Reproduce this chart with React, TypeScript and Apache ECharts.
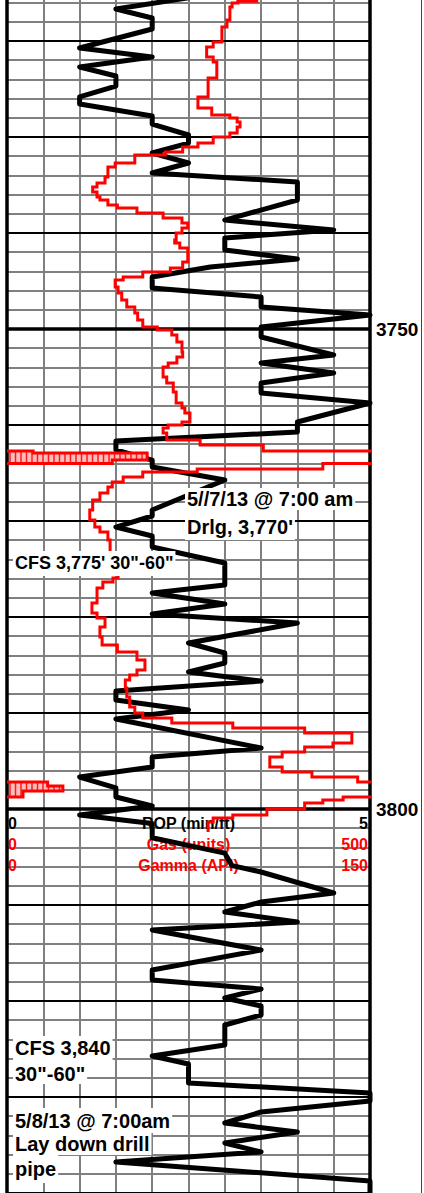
import React, { useEffect, useRef } from "react";
import * as echarts from "echarts";

// ---------------- data ----------------
const ropDepth = [
  3715.5, 3716.67, 3717.6, 3718.75, 3720.73, 3721.67, 3722.71, 3723.65, 3724.69, 3725.83,
  3726.56, 3727.81, 3728.65, 3729.79, 3730.63, 3731.67, 3732.71, 3733.75, 3734.69, 3736.56,
  3738.65, 3739.69, 3740.52, 3741.77, 3742.71, 3743.54, 3744.58, 3745.73, 3746.67, 3747.71,
  3748.54, 3749.79, 3750.83, 3752.71, 3753.54, 3754.58, 3755.63, 3756.67, 3757.71, 3759.69,
  3760.73, 3761.67, 3762.6, 3763.65, 3764.38, 3765.73, 3768.85, 3769.48, 3770.63, 3771.56,
  3772.71, 3774.38, 3776.67, 3777.5, 3778.65, 3779.69, 3780.63, 3782.71, 3783.75, 3784.79,
  3785.73, 3786.67, 3787.71, 3788.65, 3789.69, 3790.63, 3793.65, 3794.58, 3795.63, 3796.67,
  3797.81, 3798.75, 3799.69, 3800.63, 3801.5, 3803.0, 3804.6, 3805.9, 3806.56, 3808.75,
  3809.69, 3810.73, 3811.77, 3812.6, 3814.69, 3816.77, 3817.81, 3818.75, 3819.69, 3820.52,
  3821.46, 3822.5, 3824.58, 3825.73, 3826.56, 3828.54, 3829.58, 3830.42, 3831.56, 3832.71,
  3833.65, 3834.79, 3835.73, 3836.77, 3838.75, 3841.0,
];
const ropValue = [
  2.5, 1.5, 2.0, 2.0, 1.0, 2.0, 1.0, 1.5, 1.5, 1.0,
  1.0, 2.0, 2.0, 2.5, 2.5, 2.0, 2.5, 2.0, 4.0, 4.0,
  3.0, 4.5, 3.0, 3.0, 4.0, 2.8, 2.0, 2.0, 3.5, 3.5,
  5.0, 3.5, 3.5, 4.5, 3.5, 4.5, 3.5, 3.5, 5.0, 4.0,
  4.0, 1.5, 1.5, 2.0, 2.0, 3.0, 2.0, 2.0, 1.5, 2.0,
  2.0, 3.0, 3.0, 2.0, 3.0, 2.0, 4.0, 2.5, 3.0, 3.0,
  2.5, 3.5, 1.5, 1.5, 2.5, 1.5, 3.5, 2.0, 2.0, 1.0,
  1.5, 1.5, 2.0, 1.0, 2.0, 2.0, 3.0, 3.1, 3.5, 4.5,
  3.5, 3.0, 4.0, 2.0, 3.5, 2.0, 2.0, 3.5, 3.0, 3.5,
  3.5, 3.0, 3.0, 2.0, 2.5, 2.5, 5.0, 5.0, 3.5, 3.0,
  4.0, 3.0, 3.5, 1.5, 5.0, 5.0,
];

// gas: each value holds from gasTop[i] down to the next top
const gasTop = [
  3714.0, 3715.85, 3716.04, 3716.46, 3717.81, 3718.54, 3720.1, 3720.63, 3721.67, 3722.19,
  3723.85, 3725.83, 3726.98, 3727.71, 3728.02, 3728.44, 3728.96, 3729.58, 3730.0, 3730.63,
  3731.04, 3731.56, 3731.88, 3732.71, 3733.13, 3734.17, 3734.79, 3735.21, 3735.73, 3736.25,
  3736.56, 3737.08, 3737.4, 3737.92, 3738.44, 3738.96, 3739.48, 3740.0, 3740.73, 3741.04,
  3741.56, 3743.02, 3743.65, 3744.06, 3744.58, 3744.9, 3745.63, 3746.25, 3746.98, 3747.71,
  3748.33, 3749.06, 3749.79, 3750.1, 3750.63, 3751.35, 3752.4, 3752.92, 3753.54, 3753.96,
  3755.0, 3755.63, 3756.56, 3757.71, 3758.23, 3758.75, 3759.69, 3760.0, 3760.31, 3760.83,
  3761.56, 3762.08, 3762.71, 3762.92, 3763.65, 3764.0, 3764.58, 3764.9, 3765.42, 3765.94,
  3766.46, 3767.08, 3767.81, 3768.85, 3769.9, 3770.63, 3771.15, 3771.98, 3774.79, 3775.42,
  3775.94, 3776.35, 3776.98, 3778.54, 3779.58, 3780.1, 3781.04, 3782.08, 3782.92, 3783.65,
  3784.48, 3785.52, 3786.04, 3786.56, 3787.4, 3788.33, 3789.38, 3790.0, 3790.52, 3791.04,
  3791.56, 3792.08, 3793.13, 3793.54, 3794.06, 3794.58, 3795.63, 3796.15, 3796.67, 3797.19,
  3797.6, 3798.13, 3798.75, 3799.06, 3799.38, 3800.0, 3800.63, 3800.94, 3801.35,
];
const gasUnits = [
  344, 318, 310, 307, 303, 296, 284, 275, 284, 289,
  277, 263, 282, 307, 317, 321, 317, 307, 284, 263,
  242, 218, 176, 149, 139, 135, 124, 118, 124, 128,
  139, 152, 179, 215, 241, 249, 241, 233, 231, 238,
  249, 242, 225, 187, 160, 149, 153, 158, 165, 176,
  180, 187, 207, 227, 234, 241, 242, 234, 222, 215,
  220, 229, 233, 241, 245, 252, 241, 222, 215, 220,
  266, 353, 536, 693, 645, 435, 262, 187, 160, 145,
  139, 128, 118, 114, 121, 128, 139, 142, 149, 153,
  146, 132, 124, 117, 124, 135, 128, 131, 152, 179,
  190, 179, 169, 163, 165, 169, 176, 187, 227, 311,
  410, 475, 449, 410, 379, 362, 379, 420, 483, 556,
  577, 522, 463, 435, 410, 358, 311, 284, 277,
];
const gasBottom = 3802.4;

const ropMax = 5;
const gasMax = 500;
const depthMin = 3714;
const depthMax = 3842;
const depthStep = 2;
const tenFootLines = [3720, 3730, 3740, 3760, 3770, 3780, 3790, 3810, 3820, 3830, 3840];
const fiftyFootLines = [3750, 3800];
const depthLabelEvery = 50;

const headerNames = ["ROP (min/ft)", "Gas (units)", "Gamma (API)"];
const headerMin = ["0", "0", "0"];
const headerMax = ["5", "500", "150"];

const annotationLines = [
  "5//7/13 @ 7:00 am",
  "Drlg, 3,770'",
  "CFS 3,775' 30\"-60\"",
  "CFS 3,840",
  "30\"-60\"",
  "5/8/13 @ 7:00am",
  "Lay down drill",
  "pipe",
];

// ---------------- layout ----------------
const PAGE_W = 424;
const PAGE_H = 1193;
const OFFSET = 40;
const CHART_H = 1300;
const PX_PER_FT = 9.6;
const Y3750 = 329;
const GRID_LEFT = 7;
const GRID_RIGHT = 54;
const GRID_TOP = OFFSET + Y3750 - (3750 - depthMin) * PX_PER_FT;
const GRID_H = (depthMax - depthMin) * PX_PER_FT;
const FONT = "'Liberation Sans', Arial, Helvetica, sans-serif";

const annotationLayout = [
  { x: 185, top: 488, lh: 22, pad: [0, 2, 0, 2], size: 20 },
  { x: 185, top: 510, lh: 25, pad: [4, 2, 1, 2], size: 20 },
  { x: 13, top: 551, lh: 24, pad: [0, 2, 1, 2], size: 18 },
  { x: 13, top: 1036, lh: 24, pad: [0, 2, 0, 2], size: 20 },
  { x: 13, top: 1060, lh: 21, pad: [3, 2, 0, 2], size: 20 },
  { x: 13, top: 1108, lh: 25, pad: [0, 2, 0, 2], size: 20 },
  { x: 13, top: 1133, lh: 22, pad: [0, 2, 0, 2], size: 20 },
  { x: 13, top: 1155, lh: 28, pad: [0, 2, 0, 2], size: 20 },
];
const headerRowsY = [823, 844, 865];
const headerColors = ["#000000", "#ff0000", "#ff0000"];

function buildOption() {
  const ropData = ropDepth.map((d, i) => [ropValue[i], d]);

  const gasSteps: number[][] = [];
  const wrapCells: number[][] = [];
  const wrapRuns: number[][][] = [];
  let run: number[][] | null = null;
  gasTop.forEach((t, i) => {
    const b = i + 1 < gasTop.length ? gasTop[i + 1] : gasBottom;
    const v = gasUnits[i];
    gasSteps.push([v, t], [v, b]);
    if (v > gasMax) {
      const w = v - gasMax;
      wrapCells.push([t, b, w]);
      if (!run) run = [[0, t]];
      run.push([w, t], [w, b]);
    } else if (run) {
      run.push([0, t]);
      wrapRuns.push(run);
      run = null;
    }
  });

  const gridW = PAGE_W - GRID_LEFT - GRID_RIGHT;
  const centerX = GRID_LEFT + gridW / 2;

  const graphics: any[] = [];
  headerNames.forEach((name, i) => {
    const y = headerRowsY[i] + OFFSET;
    const base = { fontSize: 16, fontWeight: "bold", fontFamily: FONT, fill: headerColors[i], verticalAlign: "middle" };
    graphics.push(
      { type: "text", z: 1, x: GRID_LEFT + 1, y, style: { ...base, text: headerMin[i], align: "left" } },
      { type: "text", z: 1, x: centerX, y, style: { ...base, text: name, align: "center" } },
      { type: "text", z: 1, x: PAGE_W - GRID_RIGHT - 2, y, style: { ...base, text: headerMax[i], align: "right" } }
    );
  });
  annotationLines.forEach((text, i) => {
    const l = annotationLayout[i];
    graphics.push({
      type: "text",
      z: 100,
      x: l.x,
      y: l.top + OFFSET,
      style: {
        text,
        fontSize: l.size,
        fontWeight: "bold",
        fontFamily: FONT,
        fill: "#000",
        backgroundColor: "#ffffff",
        padding: l.pad,
        lineHeight: l.lh,
        align: "left",
        verticalAlign: "top",
      },
    });
  });
  graphics.push({
    type: "rect",
    z: 1,
    shape: { x: 421, y: 0, width: 1, height: CHART_H },
    style: { fill: "#444" },
  });

  const lineMarks = [
    ...tenFootLines.map((d) => ({ yAxis: d, lineStyle: { color: "#000", width: 2, type: "solid" } })),
    ...fiftyFootLines.map((d) => ({ yAxis: d, lineStyle: { color: "#000", width: 3.5, type: "solid" } })),
    { xAxis: 0, lineStyle: { color: "#000", width: 3.5, type: "solid" } },
    { xAxis: ropMax, lineStyle: { color: "#000", width: 3.5, type: "solid" } },
  ];

  const series: any[] = [
    {
      type: "line",
      name: "ROP",
      xAxisIndex: 0,
      yAxisIndex: 0,
      data: ropData,
      showSymbol: false,
      symbol: "none",
      z: 3,
      lineStyle: { color: "#000", width: 5, join: "round", cap: "round" },
      markLine: {
        silent: true,
        symbol: ["none", "none"],
        label: { show: false },
        animation: false,
        data: lineMarks,
      },
    },
    {
      type: "custom",
      name: "Gas wrap fill",
      xAxisIndex: 1,
      yAxisIndex: 0,
      z: 4,
      data: wrapCells,
      encode: { x: 2, y: [0, 1] },
      renderItem: (params: any, api: any) => {
        const top = api.value(0);
        const bot = api.value(1);
        const w = api.value(2);
        const p0 = api.coord([0, top]);
        const p1 = api.coord([w, bot]);
        const left = params.coordSys.x;
        const children: any[] = [
          {
            type: "rect",
            shape: { x: p0[0], y: p0[1], width: p1[0] - p0[0], height: p1[1] - p0[1] },
            style: { fill: "#ffbcbc" },
          },
        ];
        for (let x = left + 3; x < p1[0] - 0.5; x += 5.5) {
          if (x <= p0[0] + 0.5) continue;
          children.push({
            type: "line",
            shape: { x1: x, y1: p0[1], x2: x, y2: p1[1] },
            style: { stroke: "#ff1a1a", lineWidth: 1.5 },
          });
        }
        return { type: "group", children };
      },
    },
    {
      type: "line",
      name: "Gas",
      xAxisIndex: 1,
      yAxisIndex: 0,
      data: gasSteps,
      showSymbol: false,
      symbol: "none",
      z: 5,
      lineStyle: { color: "#ff0000", width: 3, join: "miter" },
    },
    ...wrapRuns.map((r, i) => ({
      type: "line",
      name: "Gas wrap " + (i + 1),
      xAxisIndex: 1,
      yAxisIndex: 0,
      data: r,
      showSymbol: false,
      symbol: "none",
      z: 5,
      lineStyle: { color: "#ff0000", width: 3, join: "miter" },
    })),
  ];

  return {
    animation: false,
    backgroundColor: "#ffffff",
    grid: {
      left: GRID_LEFT,
      right: GRID_RIGHT,
      top: GRID_TOP,
      height: GRID_H,
      containLabel: false,
      outerBoundsMode: "none",
    },
    xAxis: [
      {
        type: "value",
        min: 0,
        max: ropMax,
        interval: 0.5,
        position: "top",
        axisLine: { show: false },
        axisTick: { show: false },
        axisLabel: { show: false },
        splitLine: { show: true, showMinLine: false, showMaxLine: false, lineStyle: { color: "#808080", width: 2 } },
      },
      { type: "value", min: 0, max: gasMax, show: false },
    ],
    yAxis: [
      {
        type: "value",
        inverse: true,
        min: depthMin,
        max: depthMax,
        interval: depthStep,
        position: "right",
        axisLine: { show: false },
        axisTick: { show: false },
        axisLabel: {
          show: true,
          margin: 6,
          fontSize: 19,
          fontWeight: "bold",
          fontFamily: FONT,
          color: "#000",
          hideOverlap: false,
          formatter: (v: number) => (v % depthLabelEvery === 0 ? String(v) : ""),
        },
        splitLine: { show: true, lineStyle: { color: "#808080", width: 2 } },
      },
    ],
    graphic: graphics,
    series,
  };
}

export default function App() {
  const ref = useRef<HTMLDivElement>(null);
  useEffect(() => {
    document.body.style.margin = "0";
    if (!ref.current) return;
    const chart = echarts.init(ref.current, undefined, { renderer: "svg" });
    chart.setOption(buildOption() as any);
    return () => chart.dispose();
  }, []);
  return (
    <div style={{ position: "relative", width: PAGE_W, height: PAGE_H, overflow: "hidden", background: "#fff" }}>
      <div
        ref={ref}
        style={{ position: "absolute", left: 0, top: -OFFSET, width: PAGE_W, height: CHART_H }}
      />
    </div>
  );
}
